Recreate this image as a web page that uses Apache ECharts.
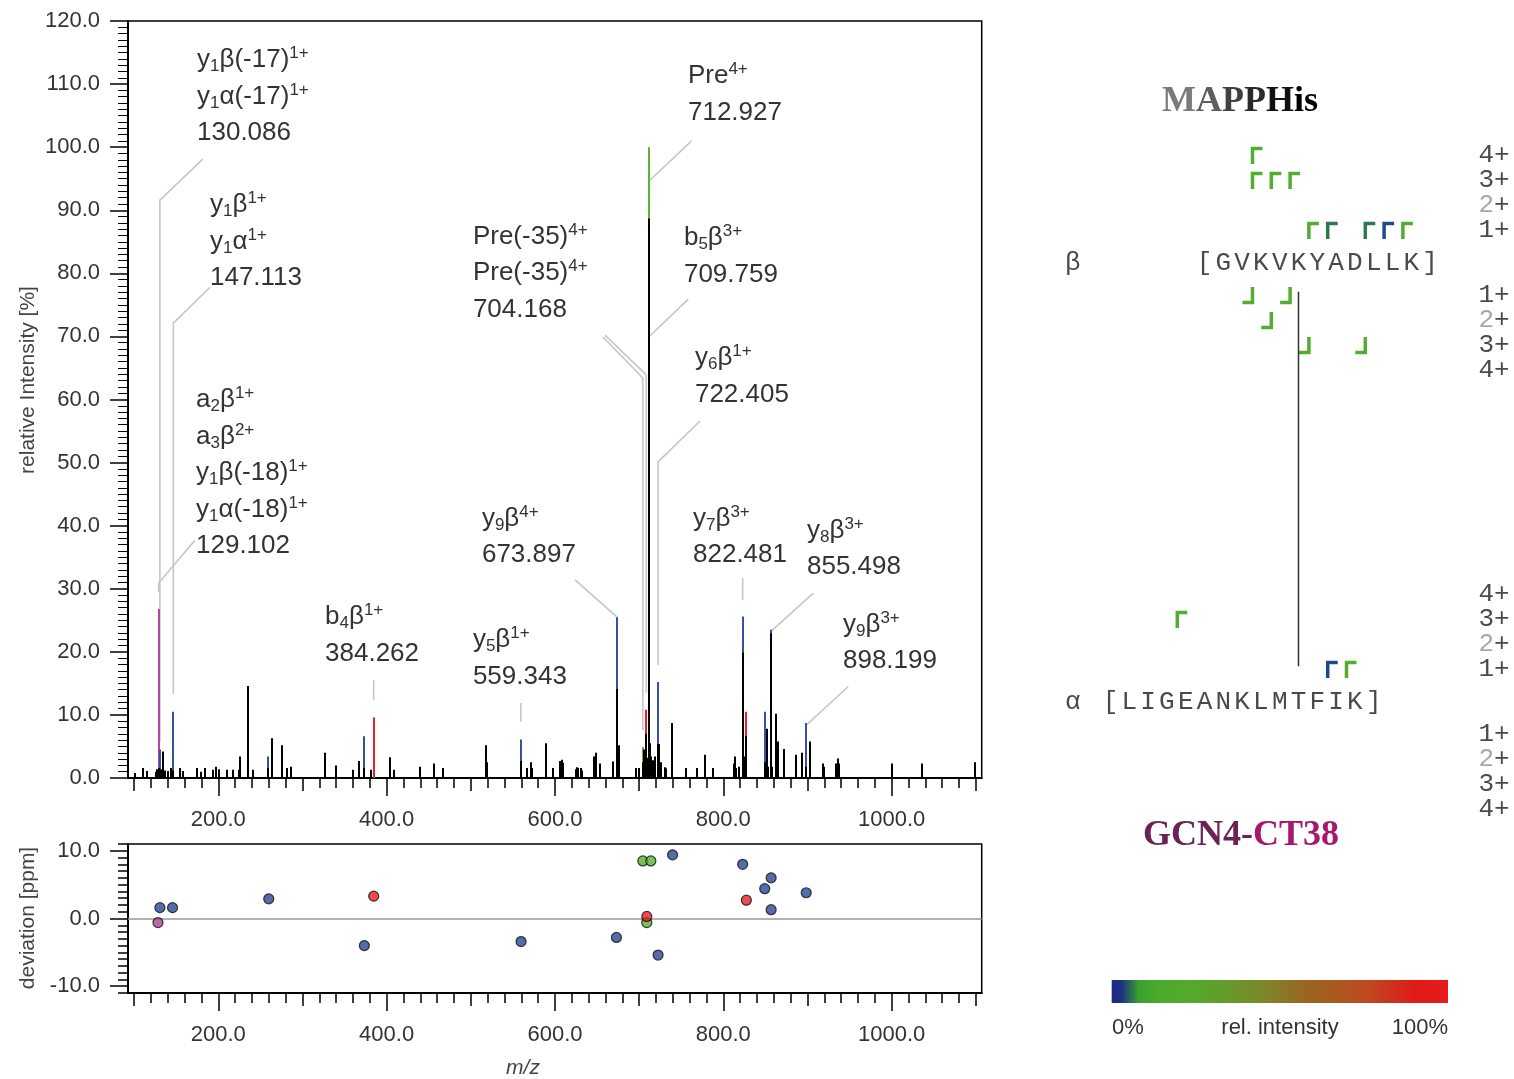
<!DOCTYPE html>
<html><head><meta charset="utf-8">
<script src="https://cdn.jsdelivr.net/npm/echarts@6/dist/echarts.min.js"></script>
<style>html,body{margin:0;padding:0;background:#fff}#c{width:1514px;height:1079px}</style>
</head><body><div id="c"></div>
<script>
// ================= DATA =================
// m/z axis range
const mzMin = 92.7, mzMax = 1107.0;
const xMajorTicks = [200, 400, 600, 800, 1000];
const xMediumTicks = [100, 300, 500, 700, 900, 1100];
const yIntTicks = [0, 10, 20, 30, 40, 50, 60, 70, 80, 90, 100, 110, 120];
const yDevTicks = [-10, 0, 10];

// unannotated (black) peaks
const specMz = [101,111,115,126,127.5,128.5,129.8,131.5,134.6,136.2,139.7,143.7,146.2,154.8,157.6,174.7,179.4,184.2,193.3,197.3,200.4,210.4,217.1,224.9,225.9,234.9,241.7,258.9,264.0,275.4,281.8,286.6,326.2,340.1,359.9,366.7,373.6,381.8,404.4,408.4,440.0,456.0,467.0,517.9,518.9,559.5,566.7,571.1,572.5,588.9,598.0,606.5,607.8,609.0,624.5,626.0,627.5,630.8,632.2,645.8,646.8,648.2,653.6,668.7,673.8,676.3,696.1,700.4,704.4,706.2,708.3,710.0,711.5,713.2,714.6,716.0,718.9,722.5,723.8,726.5,731.0,732.2,738.5,755.9,768.7,778.6,787.3,812.3,814.3,815.5,819.0,823.0,824.5,827.4,850.0,852.0,853.5,856.4,858.0,863.1,865.1,871.8,886.9,893.7,898.8,902.8,918.7,919.8,934.2,936.0,937.5,1000.9,1036.6,1099.5];
const specInt = [0.8,1.6,1.1,1.0,1.4,1.2,1.6,1.4,4.2,1.2,1.1,1.6,1.2,1.6,1.1,1.6,1.0,1.6,1.3,1.8,1.4,1.3,1.3,1.3,3.4,14.6,1.3,1.6,6.3,5.2,1.6,1.8,4.0,2.0,1.3,2.7,1.6,1.3,3.3,1.3,1.8,2.3,1.6,5.2,2.5,2.7,1.6,2.5,1.6,5.5,1.6,2.7,2.9,2.4,1.4,1.7,1.6,1.6,1.2,3.2,3.4,4.0,2.3,2.6,14.1,5.2,1.6,1.6,2.5,4.5,7.0,3.2,88.7,5.5,3.4,2.8,3.4,5.4,5.4,2.5,1.7,1.5,8.7,1.6,1.6,3.7,1.6,2.3,3.4,1.6,1.8,19.9,3.4,6.6,2.5,7.8,1.8,22.9,1.8,10.2,5.8,4.6,3.7,4.0,1.8,5.8,2.3,1.8,2.3,3.1,2.3,2.3,2.3,2.5];

// annotated peaks (class = colour of the intensity scale)
const annoMz    = [129.1, 130.6, 146.6, 258.7, 373.3, 384.6, 559.5, 673.8, 704.4, 708.5, 711.5, 722.5, 823.0, 827.4, 850.0, 856.4, 898.8];
const annoInt   = [26.8, 4.5, 10.5, 3.4, 6.6, 9.6, 6.1, 25.5, 4.9, 10.8, 100.0, 15.2, 25.6, 10.5, 10.5, 23.5, 8.7];
const annoClass = ['m','b','b','b','b','r','b','b','g','r','g','b','b','r','b','b','b'];

// mass deviation
const devMz    = [128.3, 130.6, 145.6, 259.9, 373.5, 384.6, 559.7, 673.0, 704.4, 713.9, 709.1, 709.1, 722.5, 739.7, 823.0, 827.4, 849.2, 856.8, 856.8, 898.5];
const devPpm   = [-0.6, 1.6, 1.6, 2.9, -4.0, 3.3, -3.4, -2.8, 8.5, 8.5, -0.6, 0.3, -5.4, 9.4, 8.0, 2.7, 4.4, 6.0, 1.3, 3.8];
const devClass = ['m','b','b','b','b','r','b','b','g','g','g','r','b','b','b','r','b','b','b','b'];

// peak labels
const labelText = [
  ['y{s|1}β(-17){p|1+}', 'y{s|1}α(-17){p|1+}', '130.086'],
  ['y{s|1}β{p|1+}', 'y{s|1}α{p|1+}', '147.113'],
  ['a{s|2}β{p|1+}', 'a{s|3}β{p|2+}', 'y{s|1}β(-18){p|1+}', 'y{s|1}α(-18){p|1+}', '129.102'],
  ['b{s|4}β{p|1+}', '384.262'],
  ['y{s|5}β{p|1+}', '559.343'],
  ['y{s|9}β{p|4+}', '673.897'],
  ['Pre(-35){p|4+}', 'Pre(-35){p|4+}', '704.168'],
  ['Pre{p|4+}', '712.927'],
  ['b{s|5}β{p|3+}', '709.759'],
  ['y{s|6}β{p|1+}', '722.405'],
  ['y{s|7}β{p|3+}', '822.481'],
  ['y{s|8}β{p|3+}', '855.498'],
  ['y{s|9}β{p|3+}', '898.199']
];
const labelPeak = [[130.6],[146.6],[129.1],[384.6],[559.5],[673.8],[704.4,708.5],[711.5],[711.5],[722.5],[823.0],[856.4],[898.8]];

// crosslinked peptides
const betaSeq = 'GVKVKYADLLK';
const alphaSeq = 'LIGEANKLMTFIK';
// fragment marks: [charge, residues before cleavage, intensity class]
const betaNMarks  = [[4,2,'g'],[3,2,'g'],[3,3,'g'],[3,4,'g'],[1,5,'g'],[1,6,'t'],[1,8,'t'],[1,9,'b'],[1,10,'g']];
const betaCMarks  = [[1,2,'g'],[1,4,'g'],[2,3,'g'],[3,5,'g'],[3,8,'g']];
const alphaNMarks = [[3,3,'g'],[1,11,'b'],[1,12,'g']];
const alphaCMarks = [];
const linkBetaResidue = 5;
const charges = [1, 2, 3, 4];

// ================= LAYOUT / STYLE =================
const FONT = 'Liberation Sans';
const MONO = 'Liberation Mono';
const classColor = { b: '#3452a4', g: '#5cb531', r: '#e8202a', m: '#b2479d', t: '#2f7a52' };
const dotColor   = { b: '#2b4795', g: '#55b22e', r: '#e61e26', m: '#a8428f' };
const markColor  = { b: '#1e4a8c', g: '#52ad30', t: '#2e7850', r: '#e8202a' };
// label anchor (m/z, %) of first line, and leaders: [fromMz, fromInt, bendInt, endInt]
const labelPos = [[174.7,113.8],[190.1,90.8],[173.5,59.9],[326.8,25.5],[502.5,21.9],[513.2,41.1],[502.5,85.8],[758.0,111.3],[753.2,85.6],[766.3,66.6],[764.0,41.1],[899.4,39.2],[942.2,24.3]];
const leaderGeom = [
  [[181.5,98.1,91.6,5.7]],
  [[190.1,77.8,72.1,13.3]],
  [[172.3,37.7,30.9,29.5]],
  [[384.6,15.5,15.5,12.4]],
  [[559.5,11.9,11.9,8.9]],
  [[623.8,31.4,25.5,25.5]],
  [[657.0,69.9,63.4,7.6],[659.4,70.2,63.9,13.5]],
  [[762.4,101.0,94.6,94.6]],
  [[758.4,75.9,69.9,69.9]],
  [[772.3,56.6,50.1,17.9]],
  [[823.0,31.7,31.7,28.2]],
  [[906.9,29.3,23.2,23.2]],
  [[948.5,14.5,8.4,8.4]]
];
const LINE_GAP = 36.5;
const seqLayout = { betaOffset: 0, alphaOffset: -5, betaRow: 6.52, alphaRow: 24.08, rowStart: 0.3, chargeCol: 15.9, greekCol: -6.5 };

const xMinorTicks = [];
for (let v = 100; v <= 1100; v += 20) if (v % 100 !== 0) xMinorTicks.push(v);
const yDevMinor = [];
for (let v = -11; v <= 11; v++) if (v % 10 !== 0) yDevMinor.push(v);

// ================= BUILD =================
const chart = echarts.init(document.getElementById('c'), null, { renderer: 'canvas', width: 1514, height: 1079 });
const labelFont = { fontSize: 22, fontFamily: FONT, color: '#333' };
function xAxesFor(gridIndex) {
  const base = { gridIndex, type: 'value', min: mzMin, max: mzMax, splitLine: { show: false }, position: 'bottom' };
  return [
    Object.assign({}, base, { axisLine: { onZero: false, lineStyle: { color: '#000', width: 2 } }, axisTick: { customValues: xMinorTicks, length: 10, lineStyle: { color: '#000', width: 1.5 } }, axisLabel: { show: false } }),
    Object.assign({}, base, { axisLine: { show: false, onZero: false }, axisTick: { customValues: xMediumTicks, length: 13, lineStyle: { color: '#000', width: 1.5 } }, axisLabel: { show: false } }),
    Object.assign({}, base, { axisLine: { show: false, onZero: false }, axisTick: { customValues: xMajorTicks, length: 18, lineStyle: { color: '#000', width: 1.5 } },
      axisLabel: Object.assign({ customValues: xMajorTicks, formatter: v => v.toFixed(1), margin: 31 }, labelFont) })
  ];
}

const subRich = {
  s: { fontSize: 17, fontFamily: FONT, lineHeight: 12, verticalAlign: 'bottom', fill: '#333' },
  p: { fontSize: 17, fontFamily: FONT, lineHeight: 12, verticalAlign: 'top', fill: '#333' }
};

const peakSeries = (name, mzArr, intArr, colorFn) => ({
  type: 'custom', name, xAxisIndex: 0, yAxisIndex: 0, clip: false, silent: true,
  data: mzArr.map((m, i) => [m, intArr[i]]),
  encode: { x: 0, y: 1 },
  renderItem: (params, api) => {
    const i = params.dataIndex;
    const p0 = api.coord([mzArr[i], 0]);
    const p1 = api.coord([mzArr[i], intArr[i]]);
    return { type: 'rect', shape: { x: Math.round(p0[0]) - 1, y: p1[1], width: 2, height: p0[1] - p1[1] }, style: { fill: colorFn(i) } };
  }
});

// sequence panel items
const textItems = [];
const markItems = [];
function addPeptide(seq, offset, row, greek, nMarks, cMarks) {
  const chars = '[' + seq + ']';
  for (let k = 0; k < chars.length; k++) textItems.push({ s: offset + k + 0.5, r: row, t: chars[k], kind: 'seq' });
  textItems.push({ s: seqLayout.greekCol, r: row, t: greek, kind: 'seq' });
  charges.forEach(c => {
    const lab = c === 2 ? '{l|2}+' : c + '+';
    textItems.push({ s: seqLayout.chargeCol, r: row - (c + seqLayout.rowStart), t: lab, kind: 'charge' });
    textItems.push({ s: seqLayout.chargeCol, r: row + (c + seqLayout.rowStart), t: lab, kind: 'charge' });
  });
  nMarks.forEach(m => markItems.push({ b: offset + m[1] + 1, r: row - (m[0] + seqLayout.rowStart), dir: 'n', cls: m[2] }));
  cMarks.forEach(m => markItems.push({ b: offset + m[1] + 1, r: row + (m[0] + seqLayout.rowStart), dir: 'c', cls: m[2] }));
}
addPeptide(betaSeq, seqLayout.betaOffset, seqLayout.betaRow, 'β', betaNMarks, betaCMarks);
addPeptide(alphaSeq, seqLayout.alphaOffset, seqLayout.alphaRow, 'α', alphaNMarks, alphaCMarks);

const option = {
  animation: false,
  backgroundColor: '#fff',
  grid: [
    { left: 128, right: 532.3, top: 21, bottom: 301, show: true, borderColor: '#000', borderWidth: 1.5, backgroundColor: 'transparent' },
    { left: 128, right: 532.3, top: 844, bottom: 86, show: true, borderColor: '#000', borderWidth: 1.5, backgroundColor: 'transparent' },
    { left: 1044.7, width: 451.2, top: 100, height: 750, show: false }
  ],
  xAxis: [].concat(xAxesFor(0), xAxesFor(1), [{ gridIndex: 2, type: 'value', min: -8, max: 16, show: false }]),
  yAxis: [
    { gridIndex: 0, type: 'value', min: 0, max: 120, interval: 10, position: 'left',
      axisLine: { show: true, onZero: false, lineStyle: { color: '#000', width: 2 } },
      axisTick: { show: true, length: 18, lineStyle: { color: '#000', width: 1.5 } },
      minorTick: { show: true, splitNumber: 10, length: 10, lineStyle: { color: '#000', width: 1 } },
      axisLabel: Object.assign({ formatter: v => v.toFixed(1), margin: 28 }, labelFont),
      splitLine: { show: false }, minorSplitLine: { show: false } },
    { gridIndex: 1, type: 'value', min: -11, max: 11, position: 'left',
      axisLine: { show: true, onZero: false, lineStyle: { color: '#000', width: 2 } },
      axisTick: { show: true, customValues: yDevMinor, length: 10, lineStyle: { color: '#000', width: 1.5 } },
      axisLabel: { show: false }, splitLine: { show: false } },
    { gridIndex: 1, type: 'value', min: -11, max: 11, position: 'left', offset: 0,
      axisLine: { show: false, onZero: false },
      axisTick: { show: true, customValues: yDevTicks, length: 18, lineStyle: { color: '#000', width: 1.5 } },
      axisLabel: Object.assign({ customValues: yDevTicks, formatter: v => v.toFixed(1), margin: 28 }, labelFont),
      splitLine: { show: false } },
    { gridIndex: 2, type: 'value', min: 0, max: 30, inverse: true, show: false }
  ],
  series: [
    { // labels + leaders
      type: 'custom', name: 'labels', xAxisIndex: 0, yAxisIndex: 0, clip: false, silent: true,
      data: labelPeak.map(p => [p[0], 0]), encode: { x: 0, y: 1 },
      renderItem: (params, api) => {
        const i = params.dataIndex;
        const children = [];
        leaderGeom[i].forEach((g, j) => {
          const tm = labelPeak[i][j];
          const pts = [api.coord([g[0], g[1]]), api.coord([tm, g[2]]), api.coord([tm, g[3]])];
          children.push({ type: 'polyline', shape: { points: pts }, style: { stroke: '#c6c6c6', lineWidth: 1.6, fill: null } });
        });
        const a = api.coord(labelPos[i]);
        labelText[i].forEach((t, k) => {
          children.push({ type: 'text', x: a[0], y: a[1] + k * LINE_GAP,
            style: { text: t, fill: '#333', fontSize: 26, fontFamily: FONT, lineHeight: 30, align: 'left', verticalAlign: 'middle', rich: subRich } });
        });
        return { type: 'group', children };
      }
    },
    peakSeries('annotated', annoMz, annoInt, i => classColor[annoClass[i]]),
    peakSeries('spectrum', specMz, specInt, () => '#000'),
    {
      type: 'scatter', name: 'deviation', xAxisIndex: 3, yAxisIndex: 1, symbol: 'circle', symbolSize: 10, silent: true,
      data: devMz.map((m, i) => ({ value: [m, devPpm[i]], itemStyle: { color: dotColor[devClass[i]], borderColor: '#111', borderWidth: 1.2 } })),
      markLine: { silent: true, symbol: ['none', 'none'], label: { show: false }, lineStyle: { color: '#999', width: 1.6, type: 'solid' }, data: [{ yAxis: 0 }], z: 1 }
    },
    { // fragment marks
      type: 'custom', name: 'marks', xAxisIndex: 6, yAxisIndex: 3, clip: false, silent: true,
      data: markItems.map(d => [d.b, d.r]), encode: { x: 0, y: 1 },
      renderItem: (params, api) => {
        const d = markItems[params.dataIndex];
        const p = api.coord([d.b, d.r]);
        const x = p[0] + 1, y = p[1];
        const pts = d.dir === 'n' ? [[x, y + 8.5], [x, y - 7], [x + 10, y - 7]] : [[x, y - 8.5], [x, y + 7], [x - 10, y + 7]];
        return { type: 'polyline', shape: { points: pts }, style: { stroke: markColor[d.cls], lineWidth: 3.5, fill: null, lineJoin: 'miter', lineCap: 'butt' } };
      }
    },
    { // sequence text
      type: 'custom', name: 'sequence', xAxisIndex: 6, yAxisIndex: 3, clip: false, silent: true,
      data: textItems.map(d => [d.s, d.r]), encode: { x: 0, y: 1 },
      renderItem: (params, api) => {
        const d = textItems[params.dataIndex];
        const p = api.coord([d.s, d.r]);
        return { type: 'text', x: p[0], y: p[1], style: { text: d.t, fill: '#4a4a4a', fontSize: 26, fontFamily: MONO, align: 'center', verticalAlign: 'middle',
          rich: { l: { fill: '#a8a8a8', fontSize: 26, fontFamily: MONO } } } };
      }
    },
    { // crosslink
      type: 'custom', name: 'link', xAxisIndex: 6, yAxisIndex: 3, clip: false, silent: true,
      data: [[linkBetaResidue + 0.5, seqLayout.betaRow]], encode: { x: 0, y: 1 },
      renderItem: (params, api) => {
        const p0 = api.coord([seqLayout.betaOffset + linkBetaResidue + 0.5, seqLayout.betaRow + 1.15]);
        const p1 = api.coord([seqLayout.betaOffset + linkBetaResidue + 0.5, seqLayout.alphaRow - 1.43]);
        return { type: 'line', shape: { x1: p0[0], y1: p0[1], x2: p1[0], y2: p1[1] }, style: { stroke: '#333', lineWidth: 1.5 } };
      }
    }
  ],
  graphic: [
    { type: 'text', x: 28, y: 380, rotation: Math.PI / 2, style: { text: 'relative Intensity [%]', fill: '#444', fontSize: 21, fontFamily: FONT, align: 'center', verticalAlign: 'middle' } },
    { type: 'text', x: 28, y: 918, rotation: Math.PI / 2, style: { text: 'deviation [ppm]', fill: '#444', fontSize: 21, fontFamily: FONT, align: 'center', verticalAlign: 'middle' } },
    { type: 'text', x: 523, y: 1068, style: { text: 'm/z', fill: '#444', fontSize: 21, fontStyle: 'italic', fontFamily: FONT, align: 'center', verticalAlign: 'middle' } },
    { type: 'text', x: 1240, y: 102, style: { text: '{a|M}{b|A}{c|P}{d|P}{e|H}{f|is}', align: 'center', verticalAlign: 'middle',
      rich: {
        a: { fill: '#7a7a7a', fontSize: 36, fontWeight: 'bold', fontFamily: 'Liberation Serif' },
        b: { fill: '#5e5e5e', fontSize: 36, fontWeight: 'bold', fontFamily: 'Liberation Serif' },
        c: { fill: '#404040', fontSize: 36, fontWeight: 'bold', fontFamily: 'Liberation Serif' },
        d: { fill: '#2a2a2a', fontSize: 36, fontWeight: 'bold', fontFamily: 'Liberation Serif' },
        e: { fill: '#111', fontSize: 36, fontWeight: 'bold', fontFamily: 'Liberation Serif' },
        f: { fill: '#000', fontSize: 36, fontWeight: 'bold', fontFamily: 'Liberation Serif' }
      } } },
    { type: 'text', x: 1241, y: 836, style: { text: '{a|GCN4-}{b|CT38}', align: 'center', verticalAlign: 'middle',
      rich: {
        a: { fill: '#6c2252', fontSize: 36, fontWeight: 'bold', fontFamily: 'Liberation Serif' },
        b: { fill: '#a8176e', fontSize: 36, fontWeight: 'bold', fontFamily: 'Liberation Serif' }
      } } },
    { type: 'rect', shape: { x: 1111.7, y: 980, width: 336.3, height: 23 },
      style: { fill: new echarts.graphic.LinearGradient(0, 0, 1, 0, [
        { offset: 0, color: '#1a2a80' }, { offset: 0.03, color: '#1d3282' }, { offset: 0.08, color: '#38a030' },
        { offset: 0.14, color: '#4cab2c' }, { offset: 0.26, color: '#55a82c' }, { offset: 0.44, color: '#7a8a2a' },
        { offset: 0.58, color: '#9a6520' }, { offset: 0.76, color: '#bd4a20' }, { offset: 0.9, color: '#e01a1a' }, { offset: 1, color: '#e81a1c' }]) } },
    { type: 'text', x: 1112, y: 1028, style: { text: '0%', fill: '#333', fontSize: 22, fontFamily: FONT, align: 'left', verticalAlign: 'middle' } },
    { type: 'text', x: 1280, y: 1028, style: { text: 'rel. intensity', fill: '#333', fontSize: 22, fontFamily: FONT, align: 'center', verticalAlign: 'middle' } },
    { type: 'text', x: 1448, y: 1028, style: { text: '100%', fill: '#333', fontSize: 22, fontFamily: FONT, align: 'right', verticalAlign: 'middle' } }
  ]
};
chart.setOption(option);
</script>
</body></html>
